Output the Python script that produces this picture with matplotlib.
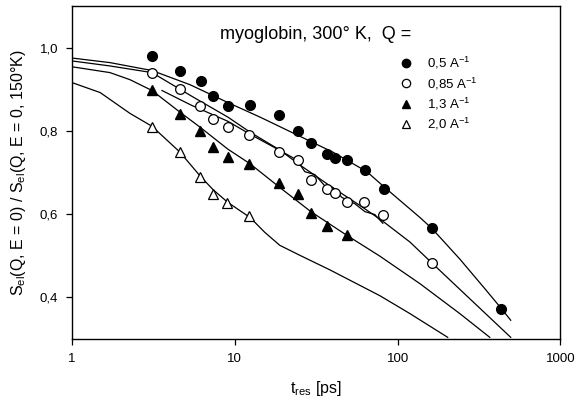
import numpy as np
import matplotlib
matplotlib.use("Agg")
import matplotlib.pyplot as plt

plt.rcParams['font.family'] = ['Liberation Sans', 'DejaVu Sans']
plt.rcParams['mathtext.fontset'] = 'custom'
plt.rcParams['mathtext.rm'] = 'Liberation Sans'
plt.rcParams['mathtext.it'] = 'Liberation Sans'

# measured points, S_el ratio vs resolution time t_res [ps]
t_05 = [3.08, 4.6, 6.17, 7.37, 9.11, 12.4, 18.7, 24.5, 29.3, 36.6, 41.3, 49.0, 62.9, 82.3, 162, 434]
s_05 = [0.980, 0.944, 0.919, 0.883, 0.859, 0.863, 0.839, 0.799, 0.770, 0.745, 0.734, 0.730, 0.705, 0.660, 0.566, 0.373]

t_085 = [3.08, 4.6, 6.1, 7.31, 9.11, 12.3, 18.7, 24.5, 29.2, 36.6, 41.1, 48.6, 62.3, 81.5, 162]
s_085 = [0.940, 0.901, 0.859, 0.829, 0.810, 0.790, 0.750, 0.730, 0.681, 0.660, 0.651, 0.630, 0.630, 0.599, 0.482]

t_13 = [3.08, 4.6, 6.1, 7.31, 9.11, 12.3, 18.7, 24.6, 29.3, 36.6, 48.6]
s_13 = [0.897, 0.840, 0.799, 0.762, 0.737, 0.721, 0.674, 0.649, 0.603, 0.571, 0.549]

t_20 = [3.08, 4.6, 6.1, 7.31, 9.0, 12.3]
s_20 = [0.810, 0.750, 0.690, 0.649, 0.627, 0.595]

# model curves
ct_05 = [1, 1.71, 3.10, 5.30, 9.07, 14.3, 25.1, 40.0, 64.7, 83.4, 137, 162, 241, 343, 434, 495]
cs_05 = [0.975, 0.964, 0.945, 0.911, 0.868, 0.833, 0.787, 0.749, 0.702, 0.664, 0.592, 0.566, 0.492, 0.421, 0.373, 0.345]

ct_085 = [1, 1.71, 3.10, 5.45, 9.07, 12.4, 18.9, 25.1, 38.4, 58.6, 81.1, 119, 162, 277, 495]
cs_085 = [0.968, 0.956, 0.940, 0.883, 0.833, 0.797, 0.754, 0.718, 0.668, 0.621, 0.583, 0.533, 0.483, 0.397, 0.304]

ct_13 = [1, 1.71, 2.27, 3.10, 4.60, 6.11, 9.07, 12.4, 18.9, 29.3, 48.8, 77.8, 137, 241, 368]
cs_13 = [0.954, 0.940, 0.923, 0.897, 0.845, 0.809, 0.756, 0.721, 0.664, 0.606, 0.549, 0.499, 0.433, 0.361, 0.304]

ct_20 = [1, 1.49, 2.27, 3.10, 4.60, 6.11, 7.34, 9.07, 12.4, 15.3, 18.9, 25.1, 38.4, 77.8, 119, 203]
cs_20 = [0.916, 0.892, 0.842, 0.811, 0.749, 0.692, 0.659, 0.628, 0.592, 0.556, 0.525, 0.501, 0.466, 0.404, 0.361, 0.304]

# hand drawn guide through the 0.85 points
ct_guide = [3.57, 5.45, 9.07, 12.4, 18.7, 24.1, 26.9, 31.0, 35.7, 40.0, 45.5, 54.6, 62.9, 72.4, 81.1]
cs_guide = [0.897, 0.861, 0.823, 0.792, 0.754, 0.730, 0.702, 0.695, 0.668, 0.664, 0.640, 0.625, 0.606, 0.599, 0.578]

labels = ["0,5 A$^{-1}$", "0,85 A$^{-1}$", "1,3 A$^{-1}$", "2,0 A$^{-1}$"]

fig = plt.figure(figsize=(5.76, 4.0), dpi=100)
ax = fig.add_axes([0.125, 0.1525, 0.848, 0.8325])

lw = 0.9
for ct, cs in [(ct_05, cs_05), (ct_085, cs_085), (ct_13, cs_13), (ct_20, cs_20), (ct_guide, cs_guide)]:
    ax.plot(ct, cs, color='black', lw=lw)

h1, = ax.plot(t_05, s_05, 'o', color='black', ms=7, ls='none', label=labels[0])
h2, = ax.plot(t_085, s_085, 'o', mfc='white', mec='black', mew=0.9, ms=7, ls='none', label=labels[1])
h3, = ax.plot(t_13, s_13, '^', color='black', ms=7, ls='none', label=labels[2])
h4, = ax.plot(t_20, s_20, '^', mfc='white', mec='black', mew=0.9, ms=7, ls='none', label=labels[3])

ax.set_xscale('log')
ax.set_xlim(1, 1000)
ax.set_ylim(0.3, 1.1)
ax.set_xticks([1, 10, 100, 1000])
ax.set_xticklabels(['1', '10', '100', '1000'])
ax.xaxis.set_minor_locator(matplotlib.ticker.NullLocator())
ax.set_yticks([0.4, 0.6, 0.8, 1.0])
ax.set_yticklabels(['0,4', '0,6', '0,8', '1,0'])
ax.tick_params(direction='out', length=4, width=0.9, labelsize=9.5, pad=6)
for sp in ax.spines.values():
    sp.set_linewidth(1.0)

ax.set_xlabel("t$_{\\mathrm{res}}$ [ps]", fontsize=11.5, labelpad=10)
ax.set_ylabel("S$_{\\mathrm{el}}$(Q, E = 0) / S$_{\\mathrm{el}}$(Q, E = 0, 150°K)", fontsize=11.5, labelpad=8)

ax.text(0.303, 0.913, "myoglobin, 300° K,  Q =", transform=ax.transAxes,
        fontsize=13, va='center', ha='left')

leg = ax.legend(handles=[h1, h2, h3, h4], loc='upper left', bbox_to_anchor=(0.66, 0.868),
                frameon=False, fontsize=9.5, handlelength=1.0, handletextpad=1.1,
                labelspacing=0.3, borderaxespad=0)
for h in leg.legend_handles:
    h.set_markersize(6)

fig.savefig("out.png", dpi=100)
